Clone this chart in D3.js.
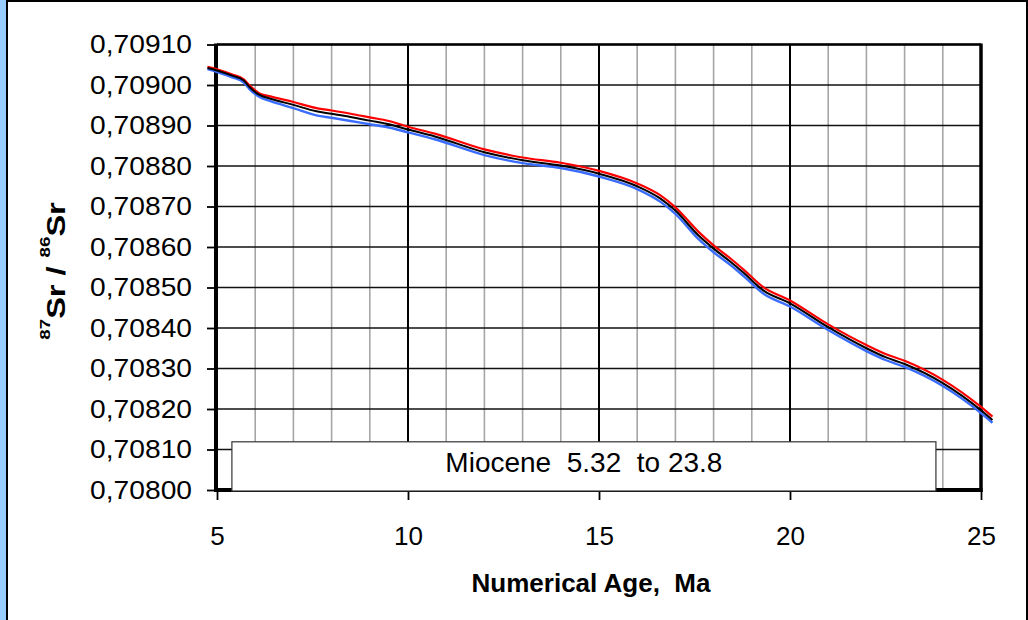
<!DOCTYPE html>
<html><head><meta charset="utf-8">
<script src="https://cdn.jsdelivr.net/npm/d3@7"></script>
<style>
body{margin:0;background:#fff}
svg{display:block}
text{font-family:"Liberation Sans",Arial,sans-serif;fill:#000}
</style>
</head><body><svg id="c" width="1028" height="620"></svg>
<script>
// ---- data ----
const ages    = [4.75, 5.0, 5.4, 5.7, 5.85, 6.1, 6.4, 7.0, 7.6, 8.0, 8.5, 9.0, 9.5, 10.0, 10.7, 12.0, 13.0, 14.0, 15.0, 16.0, 16.6, 17.0, 17.6, 18.0, 18.45, 18.8, 19.3, 20.0, 21.0, 22.0, 22.5, 23.0, 24.0, 25.0, 25.3];
const srMean  = [0.709042,0.709036,0.709023,0.709011,0.708995,0.708976,0.708966,0.708951,0.708935,0.708929,0.708921,0.708912,0.708903,0.708890,0.708873,0.708834,0.708814,0.708801,0.708781,0.708750,0.708720,0.708690,0.708629,0.708596,0.708563,0.708535,0.708493,0.708461,0.708402,0.708350,0.708328,0.708311,0.708264,0.708197,0.708173];
const srUpper = [0.709045,0.709039,0.709026,0.709014,0.708999,0.708980,0.708972,0.708958,0.708943,0.708937,0.708929,0.708920,0.708911,0.708897,0.708880,0.708841,0.708821,0.708808,0.708788,0.708757,0.708728,0.708698,0.708638,0.708604,0.708571,0.708543,0.708501,0.708468,0.708409,0.708358,0.708336,0.708319,0.708272,0.708205,0.708181];
const srLower = [0.709039,0.709032,0.709019,0.709006,0.708990,0.708971,0.708960,0.708943,0.708925,0.708919,0.708911,0.708903,0.708895,0.708883,0.708866,0.708827,0.708807,0.708795,0.708774,0.708743,0.708712,0.708682,0.708620,0.708587,0.708555,0.708527,0.708485,0.708453,0.708395,0.708343,0.708321,0.708304,0.708257,0.708190,0.708166];

const xMajorTicks = [5, 10, 15, 20, 25];
const xGridMajor  = [10, 15, 20];
const xGridMinor  = [6, 7, 8, 9, 11, 12, 13, 14, 16, 17, 18, 19, 21, 22, 23, 24];
const yTicks = [0.7080, 0.7081, 0.7082, 0.7083, 0.7084, 0.7085, 0.7086, 0.7087, 0.7088, 0.7089, 0.7090, 0.7091];

const epochLabel = "Miocene  5.32  to 23.8";
const epochSpan  = [5.39, 23.82];
const epochRatio = [0.708000, 0.708119];

const xTitle = "Numerical Age,  Ma";

// ---- layout ----
const svg = d3.select("#c");
const x = d3.scaleLinear().domain([5, 25]).range([217, 981]);
const y = d3.scaleLinear().domain([0.7080, 0.7091]).range([490, 44.5]);
const fmt = d3.formatLocale({decimal: ",", thousands: ".", grouping: [3], currency: ["", ""]}).format(".5f");

// outer frame
svg.append("rect").attr("x", 0).attr("y", 0).attr("width", 1028).attr("height", 620).attr("fill", "#fff");
svg.append("rect").attr("x", 0).attr("y", 0).attr("width", 6).attr("height", 620).attr("fill", "#99ccff");
svg.append("rect").attr("x", 6).attr("y", 0).attr("width", 2).attr("height", 620).attr("fill", "#000");
svg.append("rect").attr("x", 6).attr("y", 0).attr("width", 1022).attr("height", 2).attr("fill", "#000");
svg.append("rect").attr("x", 1026).attr("y", 0).attr("width", 2).attr("height", 620).attr("fill", "#000");

const [x0, x1] = x.range();
const [yb, yt] = y.range();

// minor vertical grid
svg.append("g").selectAll("line").data(xGridMinor).join("line")
  .attr("x1", d => x(d)).attr("x2", d => x(d)).attr("y1", yt).attr("y2", yb)
  .attr("stroke", "#a6a6a6").attr("stroke-width", 1.6);

// horizontal grid
svg.append("g").selectAll("line").data(yTicks).join("line")
  .attr("x1", x0).attr("x2", x1).attr("y1", d => y(d)).attr("y2", d => y(d))
  .attr("stroke", "#111").attr("stroke-width", 1.6);

// major vertical grid
svg.append("g").selectAll("line").data(xGridMajor).join("line")
  .attr("x1", d => x(d)).attr("x2", d => x(d)).attr("y1", yt).attr("y2", yb)
  .attr("stroke", "#000").attr("stroke-width", 2);

// axes (ticks + labels)
const yAxis = svg.append("g").attr("transform", `translate(${x0},0)`)
  .call(d3.axisLeft(y).tickValues(yTicks).tickFormat(fmt).tickSize(10).tickPadding(15));
const xAxis = svg.append("g").attr("transform", `translate(0,${yb})`)
  .call(d3.axisBottom(x).tickValues(xMajorTicks).tickFormat(d3.format("d")).tickSize(10).tickPadding(27));
[yAxis, xAxis].forEach(a => {
  a.select(".domain").remove();
  a.selectAll(".tick line").attr("stroke", "#000").attr("stroke-width", 1.8);
  a.selectAll(".tick text").style("font-family", '"Liberation Sans",Arial,sans-serif').style("font-size", "26px").attr("fill", "#000");
});
// y tick labels are slightly wider in the reference
yAxis.selectAll(".tick text").attr("x", 0).attr("transform", "translate(-25,0) scale(1.085,1)");

// plot border
svg.append("line").attr("x1", x0).attr("x2", x1).attr("y1", yt).attr("y2", yt).attr("stroke", "#000").attr("stroke-width", 2.5);
svg.append("line").attr("x1", x0 - 1).attr("x2", x0 - 1).attr("y1", yt - 1).attr("y2", yb + 2).attr("stroke", "#000").attr("stroke-width", 4);
svg.append("line").attr("x1", x1).attr("x2", x1).attr("y1", yt - 1).attr("y2", yb + 2).attr("stroke", "#000").attr("stroke-width", 3.5);
svg.append("line").attr("x1", x0 - 3).attr("x2", x1 + 1.5).attr("y1", yb).attr("y2", yb).attr("stroke", "#000").attr("stroke-width", 4);

// curves
const line = d3.line().x((d, i) => x(ages[i])).y(d => y(d)).curve(d3.curveMonotoneX);
[[srLower, "#3a6dff", 2.4], [srUpper, "#ff0000", 2.2], [srMean, "#000", 2.0]].forEach(([s, c, w]) => {
  svg.append("path").datum(s).attr("d", line).attr("fill", "none")
    .attr("stroke", c).attr("stroke-width", w).attr("stroke-linejoin", "round");
});

// epoch box
const bx0 = x(epochSpan[0]), bx1 = x(epochSpan[1]);
const by0 = y(epochRatio[1]), by1 = y(epochRatio[0]) + 1;
svg.append("rect").attr("x", bx0).attr("y", by0).attr("width", bx1 - bx0).attr("height", by1 - by0)
  .attr("fill", "#fff").attr("stroke", "#333").attr("stroke-width", 1.2);
svg.append("text").attr("x", (bx0 + bx1) / 2).attr("y", 472).attr("text-anchor", "middle")
  .style("white-space", "pre").style("font-size", "28px").text(epochLabel);

// x title
svg.append("text").attr("x", 591).attr("y", 592).attr("text-anchor", "middle")
  .style("white-space", "pre").style("font-size", "26px").style("font-weight", "bold").text(xTitle);

// y title
const yt2 = svg.append("text").attr("transform", "translate(65,271) rotate(-90) scale(1.25,1)")
  .attr("text-anchor", "middle").style("font-size", "26px").style("font-weight", "bold").style("white-space", "pre");
yt2.append("tspan").attr("baseline-shift", "15px").style("font-size", "15px").text("87");
yt2.append("tspan").text("Sr / ");
yt2.append("tspan").attr("baseline-shift", "15px").style("font-size", "15px").text("86");
yt2.append("tspan").text("Sr");
</script>
</body></html>
